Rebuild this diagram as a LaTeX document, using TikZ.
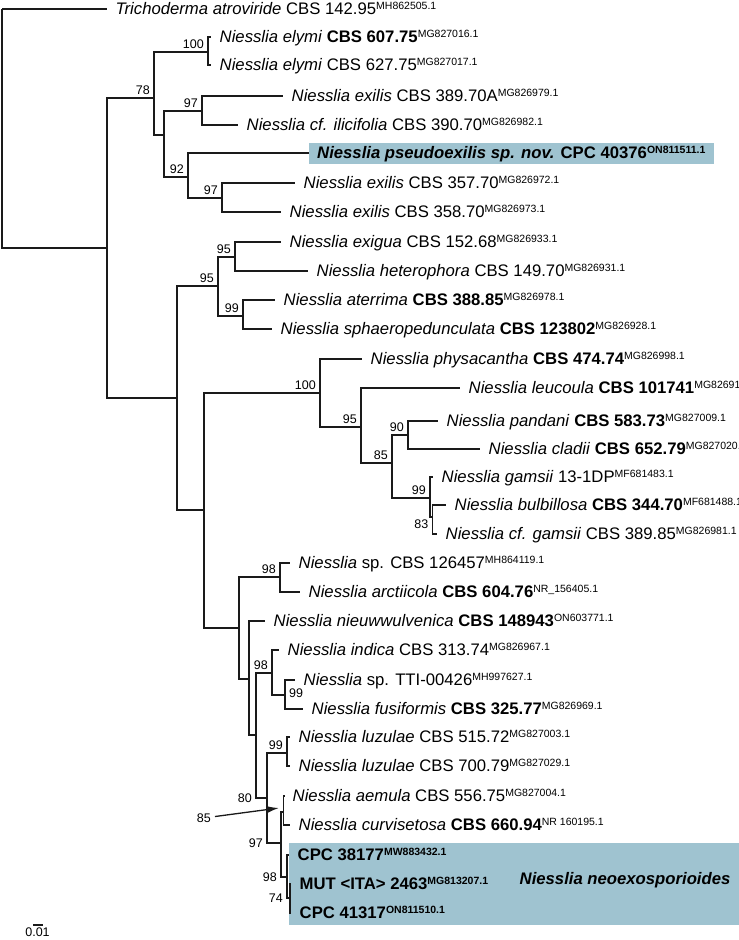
\documentclass[tikz,border=0pt]{standalone}
\usepackage{fontspec}
\setmainfont{Liberation Sans}
\definecolor{boxblau}{HTML}{9FC3D0}
\definecolor{astgrau}{HTML}{1A1A1A}
\usetikzlibrary{arrows.meta, positioning, backgrounds}
\newcommand{\acc}[1]{\raisebox{5pt}{\fontsize{10.5}{12}\selectfont #1}}

\begin{document}
\begin{tikzpicture}[x=1pt, y=-1pt,
    br/.style={draw=astgrau, line width=1.6pt},
    leaf/.style={anchor=west, inner xsep=8.5pt, inner ysep=4.5pt,
                 text height=11pt, text depth=1pt,
                 font=\fontsize{16.7}{20}\selectfont},
    hl/.style={leaf, fill=boxblau},
    bs/.style={anchor=south east, inner xsep=4pt, inner ysep=3pt,
               font=\fontsize{12.5}{15}\selectfont},
    bsl/.style={bs, anchor=east},
    arr/.style={-{Latex[length=12pt, width=7pt]}, line width=1.3pt, draw=astgrau}
  ]
  \useasboundingbox (0,0) rectangle (739,940);
  \clip (0,0) rectangle (739,940);

  % highlighted clade
  \fill[boxblau] (289,843) rectangle (739,925);

  % inner nodes
  \coordinate (root)  at (2,9);
  \coordinate (ing)   at (107,248);
  \coordinate (n78)   at (154,98);
  \coordinate (n100a) at (208,52);
  \coordinate (nC)    at (164,135);
  \coordinate (n97a)  at (202,111);
  \coordinate (n92)   at (188,177);
  \coordinate (n97b)  at (222,198);
  \coordinate (nB)    at (177,398);
  \coordinate (n95a)  at (218,286);
  \coordinate (n95b)  at (235,257);
  \coordinate (n99a)  at (243,316);
  \coordinate (nD)    at (204,510);
  \coordinate (n100b) at (320,393);
  \coordinate (n95c)  at (361,427);
  \coordinate (n85a)  at (392,463);
  \coordinate (n90)   at (408,435);
  \coordinate (n99b)  at (430,498);
  \coordinate (n83)   at (432.5,517);
  \coordinate (nE)    at (239,628);
  \coordinate (n98a)  at (280,577);
  \coordinate (nF)    at (249,679);
  \coordinate (nG)    at (256,735);
  \coordinate (n98b)  at (272,673);
  \coordinate (n99c)  at (285,695);
  \coordinate (n80)   at (267,798);
  \coordinate (n99d)  at (287,753);
  \coordinate (n97c)  at (281,843);
  \coordinate (n85b)  at (283.5,812);
  \coordinate (n98c)  at (287,877);
  \coordinate (n74)   at (290,898);

  % leaves
  \node[leaf] (trich)   at (107,9)   {\textit{Trichoderma atroviride} CBS 142.95\acc{MH862505.1}};
  \node[leaf] (elymi1)  at (211,37)  {\textit{Niesslia elymi} \textbf{CBS 607.75}\acc{MG827016.1}};
  \node[leaf] (elymi2)  at (211,65)  {\textit{Niesslia elymi} CBS 627.75\acc{MG827017.1}};
  \node[leaf] (exil1)   at (283,96)  {\textit{Niesslia exilis} CBS 389.70A\acc{MG826979.1}};
  \node[leaf] (ilic)    at (238,125) {\textit{Niesslia cf. ilicifolia} CBS 390.70\acc{MG826982.1}};
  \node[hl]   (pseudo)  at (308.5,153) {\textbf{\textit{Niesslia pseudoexilis sp. nov.} CPC 40376\acc{ON811511.1}}};
  \node[leaf] (exil2)   at (295,183) {\textit{Niesslia exilis} CBS 357.70\acc{MG826972.1}};
  \node[leaf] (exil3)   at (281,212) {\textit{Niesslia exilis} CBS 358.70\acc{MG826973.1}};
  \node[leaf] (exigua)  at (281,242) {\textit{Niesslia exigua} CBS 152.68\acc{MG826933.1}};
  \node[leaf] (hetero)  at (308,271) {\textit{Niesslia heterophora} CBS 149.70\acc{MG826931.1}};
  \node[leaf] (ater)    at (275,300) {\textit{Niesslia aterrima} \textbf{CBS 388.85}\acc{MG826978.1}};
  \node[leaf] (sphaero) at (272,329) {\textit{Niesslia sphaeropedunculata} \textbf{CBS 123802}\acc{MG826928.1}};
  \node[leaf] (physa)   at (362,359) {\textit{Niesslia physacantha} \textbf{CBS 474.74}\acc{MG826998.1}};
  \node[leaf] (leuco)   at (460,388) {\textit{Niesslia leucoula} \textbf{CBS 101741}\acc{MG82691}};
  \node[leaf] (pandani) at (438,421) {\textit{Niesslia pandani} \textbf{CBS 583.73}\acc{MG827009.1}};
  \node[leaf] (cladii)  at (480,449) {\textit{Niesslia cladii} \textbf{CBS 652.79}\acc{MG827020.1}};
  \node[leaf] (gamsii)  at (433,477) {\textit{Niesslia gamsii} 13-1DP\acc{MF681483.1}};
  \node[leaf] (bulbi)   at (446,505) {\textit{Niesslia bulbillosa} \textbf{CBS 344.70}\acc{MF681488.1}};
  \node[leaf] (cfgam)   at (437,534) {\textit{Niesslia cf. gamsii} CBS 389.85\acc{MG826981.1}};
  \node[leaf] (spcbs)   at (290,563) {\textit{Niesslia} sp. CBS 126457\acc{MH864119.1}};
  \node[leaf] (arcti)   at (300,592) {\textit{Niesslia arctiicola} \textbf{CBS 604.76}\acc{NR\_156405.1}};
  \node[leaf] (nieuw)   at (265,621) {\textit{Niesslia nieuwwulvenica} \textbf{CBS 148943}\acc{ON603771.1}};
  \node[leaf] (indica)  at (279,650) {\textit{Niesslia indica} CBS 313.74\acc{MG826967.1}};
  \node[leaf] (sptti)   at (295,680) {\textit{Niesslia} sp. TTI-00426\acc{MH997627.1}};
  \node[leaf] (fusi)    at (303,709) {\textit{Niesslia fusiformis} \textbf{CBS 325.77}\acc{MG826969.1}};
  \node[leaf] (luz1)    at (290,737) {\textit{Niesslia luzulae} CBS 515.72\acc{MG827003.1}};
  \node[leaf] (luz2)    at (290,766) {\textit{Niesslia luzulae} CBS 700.79\acc{MG827029.1}};
  \node[leaf] (aemula)  at (284,796) {\textit{Niesslia aemula} CBS 556.75\acc{MG827004.1}};
  \node[leaf] (curvi)   at (290,825) {\textit{Niesslia curvisetosa} \textbf{CBS 660.94}\acc{NR 160195.1}};
  \node[leaf] (cpc1)    at (289,855) {\textbf{CPC 38177\acc{MW883432.1}}};
  \node[leaf] (mut)     at (291,884) {\textbf{MUT <ITA> 2463\acc{MG813207.1}}};
  \node[leaf] (cpc2)    at (291,913) {\textbf{CPC 41317\acc{ON811510.1}}};
  \node[leaf] (neoname) at (511,879) {\textbf{\textit{Niesslia neoexosporioides}}};

  % branches
  \draw[br] (root) |- (trich.west);    \draw[br] (root) |- (ing);
  \draw[br] (ing) |- (n78);            \draw[br] (ing) |- (nB);
  \draw[br] (n78) |- (n100a);          \draw[br] (n78) |- (nC);
  \draw[br] (n100a) |- (elymi1.west);  \draw[br] (n100a) |- (elymi2.west);
  \draw[br] (nC) |- (n97a);            \draw[br] (nC) |- (n92);
  \draw[br] (n97a) |- (exil1.west);    \draw[br] (n97a) |- (ilic.west);
  \draw[br] (n92) |- (pseudo.west);    \draw[br] (n92) |- (n97b);
  \draw[br] (n97b) |- (exil2.west);    \draw[br] (n97b) |- (exil3.west);
  \draw[br] (nB) |- (n95a);            \draw[br] (nB) |- (nD);
  \draw[br] (n95a) |- (n95b);          \draw[br] (n95a) |- (n99a);
  \draw[br] (n95b) |- (exigua.west);   \draw[br] (n95b) |- (hetero.west);
  \draw[br] (n99a) |- (ater.west);     \draw[br] (n99a) |- (sphaero.west);
  \draw[br] (nD) |- (n100b);           \draw[br] (nD) |- (nE);
  \draw[br] (n100b) |- (physa.west);   \draw[br] (n100b) |- (n95c);
  \draw[br] (n95c) |- (leuco.west);    \draw[br] (n95c) |- (n85a);
  \draw[br] (n85a) |- (n90);           \draw[br] (n85a) |- (n99b);
  \draw[br] (n90) |- (pandani.west);   \draw[br] (n90) |- (cladii.west);
  \draw[br] (n99b) |- (gamsii.west);   \draw[br] (n99b) |- (n83);
  \draw[br] (n83) |- (bulbi.west);     \draw[br] (n83) |- (cfgam.west);
  \draw[br] (nE) |- (n98a);            \draw[br] (nE) |- (nF);
  \draw[br] (n98a) |- (spcbs.west);    \draw[br] (n98a) |- (arcti.west);
  \draw[br] (nF) |- (nieuw.west);      \draw[br] (nF) |- (nG);
  \draw[br] (nG) |- (n98b);            \draw[br] (nG) |- (n80);
  \draw[br] (n98b) |- (indica.west);   \draw[br] (n98b) |- (n99c);
  \draw[br] (n99c) |- (sptti.west);    \draw[br] (n99c) |- (fusi.west);
  \draw[br] (n80) |- (n99d);           \draw[br] (n80) |- (n97c);
  \draw[br] (n99d) |- (luz1.west);     \draw[br] (n99d) |- (luz2.west);
  \draw[br] (n97c) |- (n85b);          \draw[br] (n97c) |- (n98c);
  \draw[br] (n85b) |- (aemula.west);   \draw[br] (n85b) |- (curvi.west);
  \draw[br] (n98c) |- (cpc1.west);     \draw[br] (n98c) |- (n74);
  \draw[br] (n74) |- (mut.west);       \draw[br] (n74) |- (cpc2.west);

  % support values
  \node[bs] (b100a) at (n100a) {100};
  \node[bs] (b78)   at (n78)   {78};
  \node[bs] (b97a)  at (n97a)  {97};
  \node[bs] (b92)   at (n92)   {92};
  \node[bs] (b97b)  at (n97b)  {97};
  \node[bs] (b95a)  at (n95a)  {95};
  \node[bs] (b95b)  at (n95b)  {95};
  \node[bs] (b99a)  at (n99a)  {99};
  \node[bs] (b100b) at (n100b) {100};
  \node[bs] (b95c)  at (n95c)  {95};
  \node[bs] (b85a)  at (n85a)  {85};
  \node[bs] (b90)   at (n90)   {90};
  \node[bs] (b99b)  at (n99b)  {99};
  \node[bs, anchor=north east] (b83) at (n83) {83};
  \node[bs] (b98a)  at (n98a)  {98};
  \node[bs] (b98b)  at (n98b)  {98};
  \node[bs, anchor=west, yshift=2pt] (b99c) at (n99c) {99};
  \node[bs] (b99d)  at (n99d)  {99};
  \node[bsl] (b80)  at (nG |- n80)    {80};
  \node[bsl] (b97c) at (n80 |- n97c)  {97};
  \node[bsl] (b98c) at (n97c |- n98c) {98};
  \node[bsl] (b74)  at (n98c |- n74)  {74};
  \node[bsl] (b85b) at (215,818) {85};
  \coordinate (a85) at (279,808);
  \draw[arr] (b85b) -- (a85);

  % scale bar
  \coordinate (sb0) at (33,925);
  \coordinate (sb1) at (43,925);
  \draw[br, line width=1.3pt] (sb0) -- (sb1);
  \node[bs, anchor=north, inner ysep=2pt] (sblab) at (37.5,926) {0.01};
\end{tikzpicture}
\end{document}
